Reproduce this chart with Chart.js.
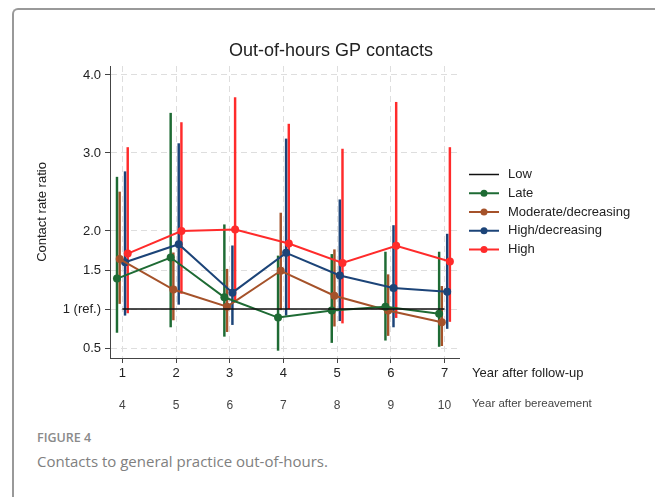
<!DOCTYPE html>
<html>
<head>
<meta charset="utf-8">
<script src="https://cdn.jsdelivr.net/npm/chart.js@4.4.0/dist/chart.umd.min.js"></script>
<style>
  body { margin: 0; background: #fff; width: 655px; height: 497px; overflow: hidden; position: relative; }
  .frame { position: absolute; left: 12px; top: 8px; width: 700px; height: 520px;
           border-left: 2px solid #999; border-top: 2px solid #999; border-top-left-radius: 6px; }
  #chartBox { position: absolute; left: 0; top: 0; }
  .fig { position: absolute; left: 37px; top: 429px; font-family: "Open Sans", sans-serif;
         font-weight: 600; font-size: 12.5px; color: #8a8a8a; }
  .cap { position: absolute; left: 37px; top: 451px; font-family: "Open Sans", sans-serif;
         font-size: 15px; color: #808080; }
</style>
</head>
<body>
<div class="frame"></div>
<div id="chartBox"><canvas id="myChart" width="655" height="420"></canvas></div>
<div class="fig">FIGURE 4</div>
<div class="cap">Contacts to general practice out-of-hours.</div>
<script>
  // values
  const years = [1, 2, 3, 4, 5, 6, 7];
  const xTickLabels = ["1", "2", "3", "4", "5", "6", "7"];
  const bereavementLabels = ["4", "5", "6", "7", "8", "9", "10"];
  const yTickValues = [0.5, 1, 1.5, 2, 3, 4];
  const yTickLabels = ["0.5", "1 (ref.)", "1.5", "2.0", "3.0", "4.0"];

  const lowRR = [1, 1, 1, 1, 1, 1, 1];
  const lateRR = [1.39, 1.66, 1.15, 0.89, 0.98, 1.03, 0.94];
  const lateLo = [0.70, 0.77, 0.65, 0.47, 0.57, 0.60, 0.52];
  const lateHi = [2.69, 3.51, 2.08, 1.68, 1.70, 1.73, 1.73];
  const modRR = [1.64, 1.25, 1.03, 1.49, 1.17, 0.98, 0.83];
  const modLo = [1.07, 0.86, 0.71, 0.99, 0.78, 0.66, 0.53];
  const modHi = [2.50, 1.72, 1.51, 2.23, 1.76, 1.44, 1.29];
  const hdRR = [1.60, 1.83, 1.21, 1.72, 1.43, 1.27, 1.22];
  const hdLo = [0.92, 1.06, 0.80, 0.92, 0.85, 0.77, 0.75];
  const hdHi = [2.76, 3.12, 1.81, 3.18, 2.40, 2.07, 1.96];
  const highRR = [1.71, 2.00, 2.02, 1.84, 1.59, 1.81, 1.61];
  const highLo = [0.95, 1.20, 1.09, 1.00, 0.82, 0.89, 0.84];
  const highHi = [3.07, 3.39, 3.71, 3.37, 3.05, 3.65, 3.07];

  const groups = [
    { label: "Late", color: "#1e6b34", dodge: -0.1, rr: lateRR, lo: lateLo, hi: lateHi },
    { label: "Moderate/decreasing", color: "#a5522a", dodge: -0.05, rr: modRR, lo: modLo, hi: modHi },
    { label: "High/decreasing", color: "#1c4478", dodge: 0.05, rr: hdRR, lo: hdLo, hi: hdHi },
    { label: "High", color: "#ff2b2b", dodge: 0.1, rr: highRR, lo: highLo, hi: highHi },
  ];

  Chart.defaults.font.family = '"Liberation Sans", Arial, sans-serif';
  Chart.defaults.color = "#222";

  const datasets = [{
    label: "Low",
    data: years.map((yr, i) => ({ x: yr, y: lowRR[i] })),
    borderColor: "#111",
    borderWidth: 1.5,
    pointRadius: 0,
  }];
  groups.forEach(gr => {
    datasets.push({
      label: gr.label,
      data: years.map((yr, i) => ({ x: yr + gr.dodge, y: gr.rr[i] })),
      borderColor: gr.color,
      backgroundColor: gr.color,
      borderWidth: 2,
      pointRadius: 4,
      pointBorderWidth: 0,
      pointBackgroundColor: gr.color,
    });
  });
  // confidence intervals as floating bars
  groups.forEach(gr => {
    datasets.push({
      type: "bar",
      label: gr.label + " CI",
      data: years.map((yr, i) => ({ x: yr + gr.dodge, y: [gr.lo[i], gr.hi[i]] })),
      backgroundColor: gr.color,
      barThickness: 1.8,
      grouped: false,
      borderWidth: 0,
    });
  });

  const tickYears = s => { s.ticks = years.map(v => ({ value: v })); };

  // title, legend to the right of the plot, axis captions beside the x ticks
  const sideText = {
    id: "sideText",
    afterDraw(chart) {
      const { ctx, chartArea } = chart;
      ctx.save();
      ctx.textAlign = "center";
      ctx.textBaseline = "middle";
      ctx.fillStyle = "#222";
      ctx.font = '18px "Liberation Sans", Arial, sans-serif';
      ctx.fillText("Out-of-hours GP contacts", 331, 51);

      const x0 = chartArea.right + 10;
      const midY = (chartArea.top + chartArea.bottom) / 2;
      const step = 18.75;
      ctx.textAlign = "left";
      ctx.font = '13px "Liberation Sans", Arial, sans-serif';
      for (let i = 0; i < 5; i++) {
        const ds = chart.data.datasets[i];
        const y = midY + (i - 2) * step;
        ctx.strokeStyle = ds.borderColor;
        ctx.lineWidth = ds.borderWidth;
        ctx.beginPath(); ctx.moveTo(x0, y); ctx.lineTo(x0 + 30, y); ctx.stroke();
        if (ds.pointRadius) {
          ctx.fillStyle = ds.borderColor;
          ctx.beginPath(); ctx.arc(x0 + 15, y, 3.5, 0, Math.PI * 2); ctx.fill();
        }
        ctx.fillStyle = "#222";
        ctx.fillText(ds.label, x0 + 39, y);
      }
      ctx.fillStyle = "#222";
      ctx.fillText("Year after follow-up", chartArea.right + 13, chart.scales.x.top + 15);
      ctx.fillStyle = "#444";
      ctx.font = '11.5px "Liberation Sans", Arial, sans-serif';
      ctx.fillText("Year after bereavement", chartArea.right + 13, chart.scales.x2.top + 18);
      ctx.restore();
    }
  };

  new Chart("myChart", {
    type: "line",
    data: { datasets: datasets },
    plugins: [sideText],
    options: {
      responsive: false,
      animation: false,
      layout: { padding: { left: 19, right: 196, top: 66, bottom: 0 } },
      plugins: {
        tooltip: { enabled: false },
        legend: { display: false },
        title: { display: false },
      },
      scales: {
        x: {
          type: "linear",
          position: "bottom",
          min: 0.77,
          max: 7.27,
          offset: false,
          weight: 0,
          afterBuildTicks: tickYears,
          afterFit: s => { s.height = 28; },
          ticks: { callback: (v, i) => xTickLabels[i], color: "#222", font: { size: 13 }, padding: 3, maxRotation: 0 },
          grid: { color: "#dedede", offset: false, tickLength: 5, tickColor: "#444" },
          border: { color: "#444", width: 1, dash: [6, 4] },
        },
        x2: {
          type: "linear",
          position: "bottom",
          min: 0.77,
          max: 7.27,
          offset: false,
          weight: 1,
          afterBuildTicks: tickYears,
          afterFit: s => { s.height = 34; },
          ticks: { callback: (v, i) => bereavementLabels[i], color: "#444", font: { size: 12 }, padding: 12, maxRotation: 0 },
          grid: { display: false, drawTicks: false },
          border: { display: false },
        },
        y: {
          type: "linear",
          min: 0.372,
          max: 4.115,
          beginAtZero: false,
          afterBuildTicks: s => { s.ticks = yTickValues.map(v => ({ value: v })); },
          afterFit: s => { s.width = 91; },
          ticks: { callback: (v, i) => yTickLabels[i], color: "#222", font: { size: 13 }, padding: 4 },
          grid: { color: "#dedede", tickLength: 5, tickColor: "#444" },
          border: { color: "#444", width: 1, dash: [6, 4] },
          title: { display: true, text: "Contact rate ratio", color: "#222", font: { size: 13 }, padding: { top: 16, bottom: 0 } },
        },
      },
    },
  });
</script>
</body>
</html>
